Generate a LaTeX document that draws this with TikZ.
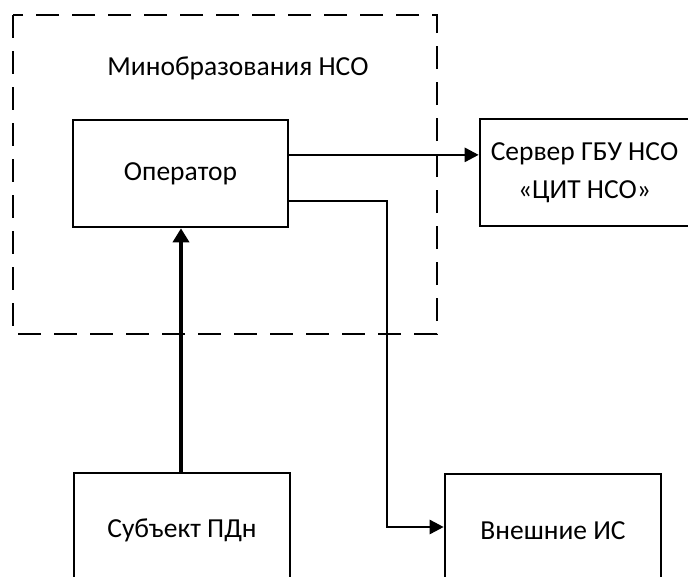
\documentclass[tikz,border=0pt]{standalone}
\usepackage{fontspec}
\setmainfont{Carlito}
\usetikzlibrary{arrows.meta,calc}
\begin{document}
\begin{tikzpicture}[x=1pt,y=-1pt,
  box/.style={draw, line width=2.6pt, rectangle, minimum width=215pt, minimum height=107pt, inner sep=0pt, align=center, font=\fontsize{27.5}{38}\selectfont},
  conn/.style={line width=2.6pt, -{Triangle[length=14pt,width=14pt]}},
  thickconn/.style={line width=3.6pt, -{Triangle[length=14pt,width=16pt]}},
  lbl/.style={font=\fontsize{27.5}{33}\selectfont}]
\clip (0,0) rectangle (688,576);
\fill[white] (0,0) rectangle (688,576);
\draw[line width=2.8pt, dash pattern=on 23pt off 13pt] (13,15) rectangle (437,334);
\node[lbl] (title) at (238,68) {Минобразования НСО};
\node[box] (op) at (180.5,173.5) {Оператор};
\node[box, minimum width=209pt] (srv) at (584.5,172.5) {Сервер ГБУ НСО\\«ЦИТ НСО»};
\node[box, minimum width=216pt, minimum height=114pt] (subj) at (182,530) {Субъект ПДн};
\node[box, minimum width=216pt, minimum height=114pt] (ext) at (553,531) {Внешние ИС};
\coordinate (opA) at ($(op.north east)!0.33!(op.south east)$);
\coordinate (opB) at ($(op.north east)!0.75!(op.south east)$);
\draw[conn] (opA) -- (opA -| srv.west);
\coordinate (turn) at (387,0);
\draw[conn] (opB) -- (opB -| turn) -- (turn |- 0,527) -- (ext.west |- 0,527);
\draw[thickconn] (subj.north -| 181,0) -- (op.south -| 181,0);
\end{tikzpicture}
\end{document}
